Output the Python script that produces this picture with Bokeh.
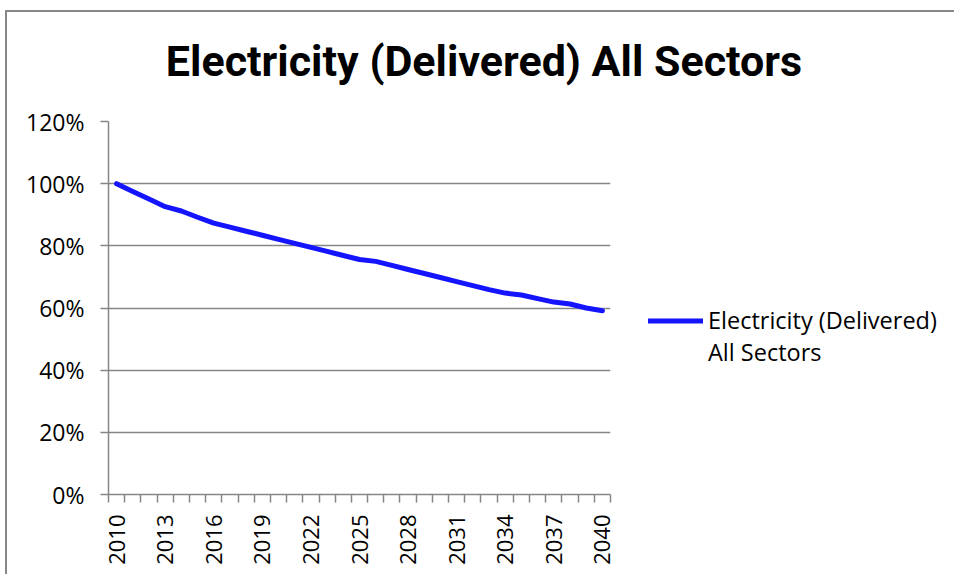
import math
from bokeh.plotting import figure
from bokeh.layouts import row, column
from bokeh.models import (FixedTicker, PrintfTickFormatter, Legend, LegendItem, Label,
                          ColumnDataSource)
from bokeh.embed import file_html
from bokeh.resources import INLINE

# ---- data ----
years = list(range(2010, 2041))
share_pct = [100.0, 97.5, 95.1, 92.6, 91.2, 89.2, 87.3, 86.0, 84.7, 83.4,
             82.1, 80.8, 79.5, 78.2, 76.9, 75.6, 75.0, 73.7, 72.4, 71.1,
             69.8, 68.5, 67.2, 65.9, 64.8, 64.2, 63.0, 61.9, 61.3, 60.0, 59.1]
x_label_years = list(range(2010, 2041, 3))
y_ticks = [0, 20, 40, 60, 80, 100, 120]
series_name_lines = ["Electricity (Delivered)", "All Sectors"]
chart_title = "Electricity (Delivered) All Sectors"

GREY = "#868686"
BLUE = "#1414FF"
FONT = "Open Sans"

src = ColumnDataSource(dict(year=years, share=share_pct))

# ---- title strip ----
p0 = figure(width=951, height=85, output_backend="svg", toolbar_location=None,
            x_range=(0, 1), y_range=(0, 1), min_border=0, title=None,
            x_axis_location=None, y_axis_location=None)
p0.grid.grid_line_color = None
p0.outline_line_color = None
p0.border_fill_color = "white"
p0.add_layout(Label(x=476.5, y=37, x_units="screen", y_units="screen",
                    text=chart_title, text_align="center", text_baseline="alphabetic",
                    text_font="Roboto", text_font_style="bold",
                    text_font_size="43px", text_color="black"))

# ---- main chart ----
p = figure(width=610, height=477, output_backend="svg", toolbar_location=None,
           x_range=(2009.5, 2040.5), y_range=(0, 120),
           min_border_left=101, min_border_right=7, min_border_top=24,
           min_border_bottom=80, title=None)
p.outline_line_color = None
p.background_fill_color = "white"
p.border_fill_color = "white"

r = p.line("year", "share", source=src, line_color=BLUE, line_width=5,
           line_cap="round", line_join="round")

xa = p.xaxis[0]
xa.ticker = FixedTicker(ticks=x_label_years,
                        minor_ticks=[y - 0.5 for y in years] + [years[-1] + 0.5])
xa.major_label_overrides = {y: str(y) for y in x_label_years}
xa.major_label_orientation = math.pi / 2
xa.major_tick_out = 0
xa.major_tick_in = 0
xa.minor_tick_out = 8
xa.minor_tick_in = 0
xa.minor_tick_line_color = GREY
xa.minor_tick_line_width = 1.5
xa.axis_line_color = GREY
xa.axis_line_width = 1.5
xa.major_label_text_font = FONT
xa.major_label_text_font_size = "22px"
xa.major_label_text_color = "black"
xa.major_label_standoff = 12

ya = p.yaxis[0]
ya.ticker = FixedTicker(ticks=y_ticks)
ya.formatter = PrintfTickFormatter(format="%d%%")
ya.major_tick_out = 8
ya.major_tick_in = 0
ya.minor_tick_out = 0
ya.minor_tick_in = 0
ya.major_tick_line_color = GREY
ya.major_tick_line_width = 1.5
ya.axis_line_color = GREY
ya.axis_line_width = 1.5
ya.major_label_text_font = FONT
ya.major_label_text_font_size = "23px"
ya.major_label_text_color = "black"
ya.major_label_standoff = 16

p.xgrid.grid_line_color = None
p.ygrid.grid_line_color = GREY
p.ygrid.grid_line_width = 1.5
p.ygrid.ticker = FixedTicker(ticks=y_ticks)

# ---- legend panel ----
p2 = figure(width=341, height=477, output_backend="svg", toolbar_location=None,
            x_range=(0, 1), y_range=(0, 1), min_border=0, title=None,
            x_axis_location=None, y_axis_location=None)
p2.grid.grid_line_color = None
p2.outline_line_color = None
p2.border_fill_color = "white"
# same series, outside this panel's ranges: only its legend swatch shows
r_leg = p2.line(years, share_pct, line_color=BLUE, line_width=5, line_cap="round")
r_blank = p2.line(years, share_pct, line_alpha=0)

legend = Legend(items=[LegendItem(label=series_name_lines[0], renderers=[r_leg]),
                       LegendItem(label=series_name_lines[1], renderers=[r_blank])],
                location=(31, 126), padding=0, margin=0, spacing=0,
                border_line_color=None, background_fill_alpha=0,
                glyph_width=55, glyph_height=31, label_height=31, label_standoff=5,
                label_text_font=FONT, label_text_font_size="23.5px",
                label_text_color="black")
p2.add_layout(legend)

layout = column(p0, row(p, p2, spacing=0), spacing=0,
                styles={"margin-left": "5px", "margin-top": "10px",
                        "border-left": "2px solid #878787",
                        "border-top": "2px solid #878787"})

open("out.html", "w").write(file_html(layout, INLINE))
